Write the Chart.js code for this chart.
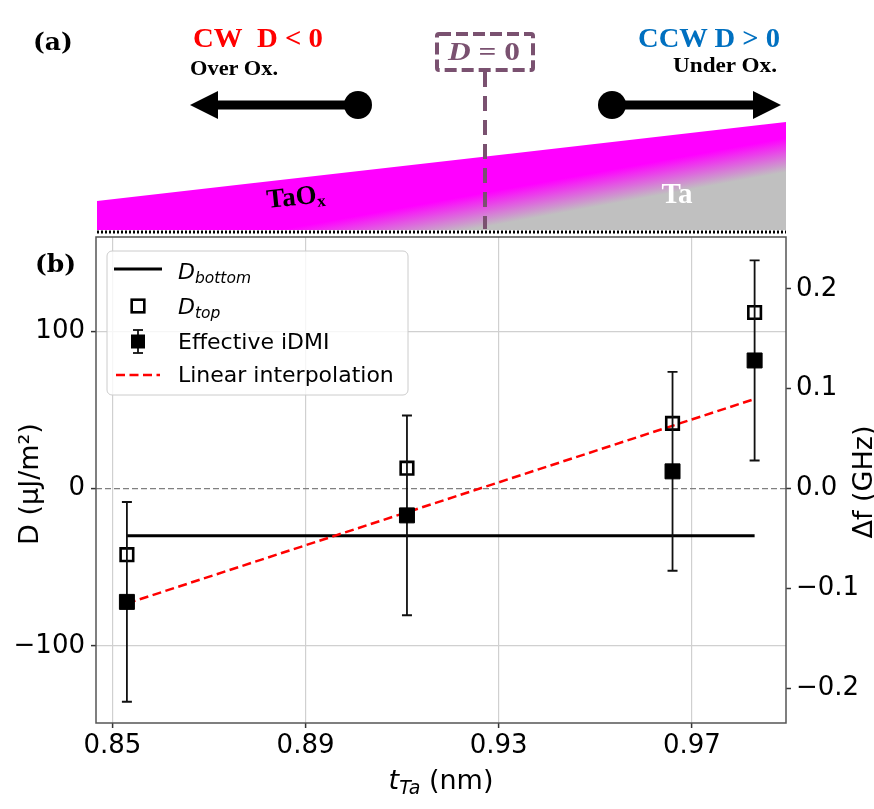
<!DOCTYPE html>
<html>
<head>
<meta charset="utf-8">
<script src="https://cdn.jsdelivr.net/npm/chart.js@4.4.1/dist/chart.umd.min.js"></script>
<style>
  html, body { margin: 0; padding: 0; background: #fff; }
  #wrap { position: relative; width: 874px; height: 809px; overflow: hidden; }
  #chart { position: absolute; left: 0; top: 0; }
  #overlay { position: absolute; left: 0; top: 0; pointer-events: none; }
  .sans { font-family: 'DejaVu Sans', sans-serif; }
  .serif { font-family: 'Liberation Serif', 'DejaVu Serif', serif; font-weight: bold; }
</style>
</head>
<body>
<div id="wrap">
  <canvas id="chart" width="874" height="809"></canvas>
  <svg id="overlay" width="874" height="809" xmlns="http://www.w3.org/2000/svg">
    <defs>
      <linearGradient id="slab" gradientUnits="userSpaceOnUse" x1="577" y1="176" x2="583" y2="209">
        <stop offset="0" stop-color="#ff00ff"/>
        <stop offset="1" stop-color="#c0c0c0"/>
      </linearGradient>
    </defs>

    <!-- (a) schematic -->
    <text x="33" y="50" font-family="DejaVu Serif" font-weight="bold" font-size="25">(a)</text>
    <text class="serif" x="193" y="47" font-size="28" fill="#ff0000" textLength="130" lengthAdjust="spacingAndGlyphs">CW&#160;&#160;D &lt; 0</text>
    <text class="serif" x="190" y="75" font-size="21" fill="#000" textLength="88" lengthAdjust="spacingAndGlyphs">Over Ox.</text>
    <text class="serif" x="638" y="47" font-size="28" fill="#0070c0" textLength="142" lengthAdjust="spacingAndGlyphs">CCW D &gt; 0</text>
    <text class="serif" x="673" y="72" font-size="21" fill="#000" textLength="104" lengthAdjust="spacingAndGlyphs">Under Ox.</text>

    <!-- arrows -->
    <line x1="214" y1="105" x2="358" y2="105" stroke="#000" stroke-width="9"/>
    <polygon points="190,105 218,91 218,119" fill="#000"/>
    <circle cx="358" cy="105" r="14" fill="#000"/>
    <line x1="612" y1="105" x2="756" y2="105" stroke="#000" stroke-width="9"/>
    <polygon points="781,105 753,91 753,119" fill="#000"/>
    <circle cx="612" cy="105" r="14" fill="#000"/>

    <!-- slab -->
    <polygon points="97,201 786,122 786,230 97,230" fill="url(#slab)"/>
    <line x1="97" y1="232" x2="786" y2="232" stroke="#000" stroke-width="3" stroke-dasharray="2 2"/>
    <text class="serif" x="296" y="205" font-size="27" fill="#000" text-anchor="middle" transform="rotate(-6 296 198)">TaO<tspan font-size="17" dy="4">x</tspan></text>
    <text class="serif" x="677" y="203" font-size="29" fill="#fff" text-anchor="middle">Ta</text>

    <!-- D = 0 marker -->
    <rect x="437" y="34" width="96" height="36" rx="2" fill="none" stroke="#7a5170" stroke-width="4" stroke-dasharray="12 5"/>
    <text class="serif" x="448" y="60" font-size="26" fill="#7a5170" textLength="72" lengthAdjust="spacingAndGlyphs"><tspan font-style="italic">D</tspan> = 0</text>
    <line x1="485" y1="72" x2="485" y2="229" stroke="#7a5170" stroke-width="4" stroke-dasharray="15 9"/>

    <!-- (b) label -->
    <text x="35" y="272" font-family="DejaVu Serif" font-weight="bold" font-size="25">(b)</text>

    <!-- legend -->
    <rect x="107" y="251" width="301" height="144" rx="5" fill="rgba(255,255,255,0.8)" stroke="#cccccc" stroke-width="1"/>
    <line x1="114" y1="269" x2="162" y2="269" stroke="#000" stroke-width="3"/>
    <text class="sans" x="178" y="279" font-size="22" font-style="italic">D<tspan font-size="15.5" dy="4">bottom</tspan></text>
    <rect x="131.7" y="299.7" width="12.6" height="12.6" fill="none" stroke="#000" stroke-width="2.6"/>
    <text class="sans" x="178" y="314" font-size="22" font-style="italic">D<tspan font-size="15.5" dy="4">top</tspan></text>
    <line x1="138" y1="330" x2="138" y2="353" stroke="#111" stroke-width="1.8"/>
    <line x1="133" y1="330" x2="143" y2="330" stroke="#111" stroke-width="1.8"/>
    <line x1="133" y1="353" x2="143" y2="353" stroke="#111" stroke-width="1.8"/>
    <rect x="131" y="334.5" width="14" height="14" fill="#000"/>
    <text class="sans" x="178" y="349" font-size="22">Effective iDMI</text>
    <line x1="116" y1="375" x2="160" y2="375" stroke="#ff0000" stroke-width="2.5" stroke-dasharray="9 4.5"/>
    <text class="sans" x="178" y="382" font-size="22">Linear interpolation</text>

    <!-- axis titles -->
    <text class="sans" x="441" y="789" font-size="27" text-anchor="middle"><tspan font-style="italic">t</tspan><tspan font-style="italic" font-size="19" dy="5">Ta</tspan><tspan dy="-5"> (nm)</tspan></text>
    <text class="sans" x="28" y="484" font-size="27" text-anchor="middle" dominant-baseline="central" transform="rotate(-90 28 484)">D (μJ/m²)</text>
    <text class="sans" x="862" y="482" font-size="27" text-anchor="middle" dominant-baseline="central" transform="rotate(-90 862 482)">Δf (GHz)</text>
  </svg>
</div>

<script>
// DATA
const tTa = [0.853, 0.911, 0.966, 0.983];          // nm
const dTop = [-42, 13, 41.5, 112];                  // uJ/m2, open squares
const dEff = [-72, -17, 11, 81.5];                  // effective iDMI, filled squares
const dEffErr = [63.5, 63.5, 63.2, 63.6];
const dBottomX = [0.853, 0.983];
const dBottom = [-30, -30];
const fitX = [0.853, 0.983];
const fitY = [-73, 57];

// AXES
const xMin = 0.8466, xMax = 0.9895;
const xTicks = [0.85, 0.89, 0.93, 0.97];
const yMin = -149, yMax = 160;
const yTicks = [-100, 0, 100];
const dfMin = -0.2345, dfMax = 0.2518;
const dfTicks = [-0.2, -0.1, 0.0, 0.1, 0.2];

const FONT = { family: 'DejaVu Sans', size: 26 };
const GRID = '#d0d0d0';
const TICK = '#333333';
const minus = s => s.replace('-', '\u2212');
const pts = (xs, ys) => xs.map((x, i) => ({ x, y: ys[i] }));

// PLUGINS
const errorBars = {
    id: 'errorBars',
    beforeDatasetDraw(chart, args) {
        if (args.index !== 0) return;
        const { ctx, scales: { x, y } } = chart;
        ctx.save();
        ctx.strokeStyle = '#111';
        ctx.lineWidth = 1.8;
        tTa.forEach((t, i) => {
            const px = x.getPixelForValue(t);
            const top = y.getPixelForValue(dEff[i] + dEffErr[i]);
            const bot = y.getPixelForValue(dEff[i] - dEffErr[i]);
            ctx.beginPath();
            ctx.moveTo(px, top); ctx.lineTo(px, bot);
            ctx.moveTo(px - 5, top); ctx.lineTo(px + 5, top);
            ctx.moveTo(px - 5, bot); ctx.lineTo(px + 5, bot);
            ctx.stroke();
        });
        ctx.restore();
    }
};

const frame = {
    id: 'frame',
    afterDatasetsDraw(chart) {
        const { ctx, chartArea: a } = chart;
        ctx.save();
        ctx.strokeStyle = '#555';
        ctx.lineWidth = 1.5;
        ctx.strokeRect(a.left, a.top, a.right - a.left, a.bottom - a.top);
        ctx.restore();
    }
};

// CHART
new Chart(document.getElementById('chart'), {
    type: 'scatter',
    data: {
        datasets: [
            { label: 'Effective iDMI', data: pts(tTa, dEff), pointStyle: 'rect', pointRadius: 10.6,
              backgroundColor: '#000', borderColor: '#000', borderWidth: 1, order: 0 },
            { label: 'D_top', data: pts(tTa, dTop), pointStyle: 'rect', pointRadius: 8.9,
              backgroundColor: 'rgba(255,255,255,0)', borderColor: '#000', borderWidth: 2.6, order: 1 },
            { label: 'Linear interpolation', data: pts(fitX, fitY), showLine: true, pointRadius: 0,
              borderColor: '#ff0000', borderWidth: 2.5, borderDash: [9, 4.5], order: 2 },
            { label: 'D_bottom', data: pts(dBottomX, dBottom), showLine: true, pointRadius: 0,
              borderColor: '#000', borderWidth: 3, order: 3 },
            { label: 'zero', data: pts([xMin, xMax], [0, 0]), showLine: true, pointRadius: 0,
              borderColor: '#808080', borderWidth: 1.3, borderDash: [6, 3], order: 4 }
        ]
    },
    options: {
        responsive: false,
        animation: false,
        events: [],
        layout: { padding: { top: 237, left: 0, right: 0, bottom: 0 } },
        plugins: { legend: { display: false }, tooltip: { enabled: false } },
        scales: {
            x: {
                type: 'linear', min: xMin, max: xMax,
                afterBuildTicks: s => { s.ticks = xTicks.map(v => ({ value: v })); },
                afterFit: s => { s.height = 86; },
                ticks: { font: FONT, color: '#000', padding: 3, maxRotation: 0, autoSkip: false,
                         callback: v => v.toFixed(2) },
                grid: { color: GRID, lineWidth: 1.2, tickColor: TICK, tickLength: 5, tickWidth: 1.5 },
                border: { display: false }
            },
            y: {
                type: 'linear', position: 'left', min: yMin, max: yMax,
                afterBuildTicks: s => { s.ticks = yTicks.map(v => ({ value: v })); },
                afterFit: s => { s.width = 96; },
                ticks: { font: FONT, color: '#000', padding: 6, callback: v => minus(String(v)) },
                grid: { color: c => (c.tick && c.tick.value === 0 ? 'rgba(0,0,0,0)' : GRID),
                        lineWidth: 1.2, tickColor: TICK, tickLength: 5, tickWidth: 1.5 },
                border: { display: false }
            },
            df: {
                type: 'linear', position: 'right', min: dfMin, max: dfMax,
                afterBuildTicks: s => { s.ticks = dfTicks.map(v => ({ value: v })); },
                afterFit: s => { s.width = 88; },
                ticks: { font: FONT, color: '#000', padding: 5, callback: v => minus(v.toFixed(1)) },
                grid: { drawOnChartArea: false, tickColor: TICK, tickLength: 5, tickWidth: 1.5 },
                border: { display: false }
            }
        }
    },
    plugins: [errorBars, frame]
});
</script>
</body>
</html>
